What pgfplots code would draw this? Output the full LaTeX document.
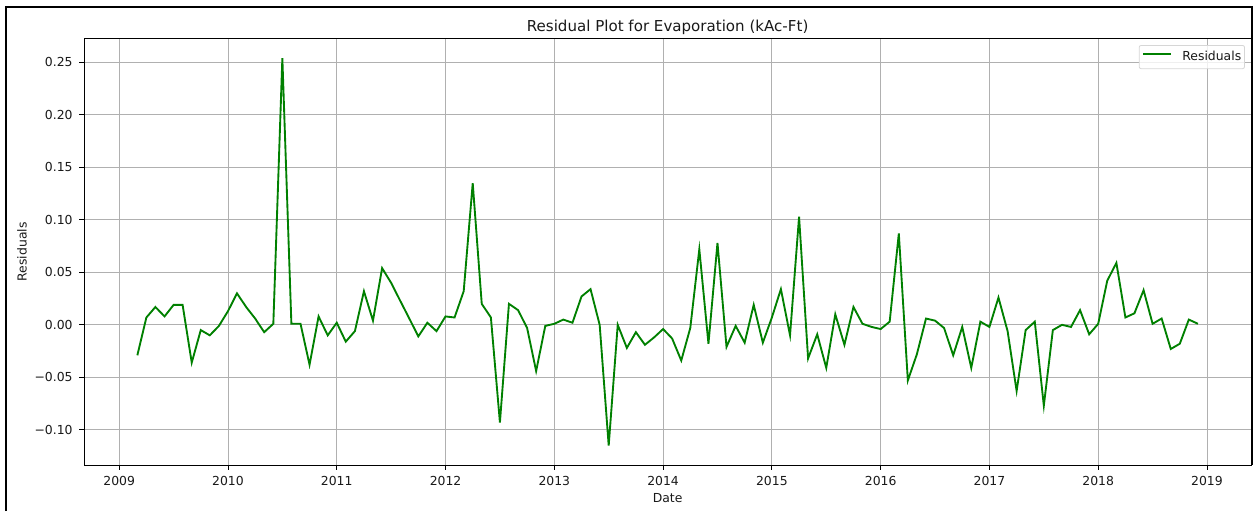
\documentclass[border=0pt]{standalone}
\usepackage{pgfplots}
\usepackage{pgfplotstable}
\pgfplotsset{compat=1.18}
\usepackage{fontspec}
\setmainfont{DejaVu Sans}
\definecolor{mplgreen}{HTML}{008000}
\definecolor{gridgray}{HTML}{B0B0B0}
\definecolor{leggray}{HTML}{D6D6D6}

\pgfplotstableread{
x y
2009.167 -0.029
2009.250 0.007
2009.333 0.017
2009.417 0.008
2009.500 0.019
2009.583 0.019
2009.667 -0.036
2009.750 -0.005
2009.833 -0.010
2009.917 -0.001
2010.000 0.013
2010.083 0.030
2010.167 0.017
2010.250 0.006
2010.333 -0.007
2010.417 0.001
2010.500 0.254
2010.583 0.001
2010.667 0.001
2010.750 -0.038
2010.833 0.008
2010.917 -0.010
2011.000 0.002
2011.083 -0.016
2011.167 -0.006
2011.250 0.032
2011.333 0.004
2011.417 0.054
2011.500 0.040
2011.583 0.023
2011.667 0.006
2011.750 -0.011
2011.833 0.002
2011.917 -0.006
2012.000 0.008
2012.083 0.007
2012.167 0.032
2012.250 0.135
2012.333 0.020
2012.417 0.007
2012.500 -0.093
2012.583 0.020
2012.667 0.014
2012.750 -0.003
2012.833 -0.044
2012.917 -0.001
2013.000 0.001
2013.083 0.005
2013.167 0.002
2013.250 0.027
2013.333 0.034
2013.417 0.000
2013.500 -0.115
2013.583 0.000
2013.667 -0.022
2013.750 -0.007
2013.833 -0.019
2013.917 -0.012
2014.000 -0.004
2014.083 -0.013
2014.167 -0.034
2014.250 -0.003
2014.333 0.072
2014.417 -0.018
2014.500 0.078
2014.583 -0.021
2014.667 -0.001
2014.750 -0.017
2014.833 0.019
2014.917 -0.017
2015.000 0.007
2015.083 0.034
2015.167 -0.010
2015.250 0.103
2015.333 -0.032
2015.417 -0.009
2015.500 -0.041
2015.583 0.010
2015.667 -0.019
2015.750 0.017
2015.833 0.001
2015.917 -0.002
2016.000 -0.004
2016.083 0.003
2016.167 0.087
2016.250 -0.053
2016.333 -0.028
2016.417 0.006
2016.500 0.004
2016.583 -0.003
2016.667 -0.029
2016.750 -0.002
2016.833 -0.041
2016.917 0.003
2017.000 -0.002
2017.083 0.026
2017.167 -0.006
2017.250 -0.063
2017.333 -0.005
2017.417 0.003
2017.500 -0.077
2017.583 -0.005
2017.667 0.000
2017.750 -0.002
2017.833 0.014
2017.917 -0.009
2018.000 0.001
2018.083 0.042
2018.167 0.059
2018.250 0.007
2018.333 0.011
2018.417 0.033
2018.500 0.001
2018.583 0.006
2018.667 -0.023
2018.750 -0.018
2018.833 0.005
2018.917 0.001
}\resid

\begin{document}
\begin{tikzpicture}
\useasboundingbox (0,0) rectangle (945pt,383.25pt);
\begin{axis}[
  at={(63.2pt,34.5pt)}, anchor=south west,
  width=875pt, height=319.7pt, scale only axis,
  xmin=2008.679, xmax=2019.404,
  ymin=-0.1335, ymax=0.2725,
  xtick={2009,2010,2011,2012,2013,2014,2015,2016,2017,2018,2019},
  xticklabels={2009,2010,2011,2012,2013,2014,2015,2016,2017,2018,2019},
  ytick={-0.10,-0.05,0,0.05,0.10,0.15,0.20,0.25},
  yticklabels={−0.10,−0.05,0.00,0.05,0.10,0.15,0.20,0.25},
  tick align=outside, major tick length=3.7pt,
  xtick pos=bottom, ytick pos=left,
  tick style={black, line width=0.6pt},
  axis line style={black, line width=0.6pt},
  grid=major,
  major grid style={gridgray, line width=0.6pt},
  every tick label/.append style={font=\fontsize{9.3}{11}\selectfont, text=black!90},
  xticklabel style={anchor=base, inner sep=0pt, yshift=-11.5pt},
  yticklabel style={anchor=east, inner sep=0pt, xshift=-4.9pt},
  title={Residual Plot for Evaporation (kAc-Ft)},
  title style={at={(axis description cs:0.5,1)}, anchor=base, yshift=-0.7pt, font=\fontsize{11.3}{13}\selectfont, text=black!90},
  xlabel={Date},
  ylabel={Residuals},
  xlabel style={at={(axis description cs:0.5,0)}, anchor=base, yshift=-28pt, font=\fontsize{9.3}{11}\selectfont, text=black!90},
  ylabel style={at={(axis description cs:-0.0534,0.5)}, anchor=center, font=\fontsize{9.3}{11}\selectfont, text=black!90},
  legend style={at={(axis description cs:1,1)}, anchor=north east, xshift=-4.5pt, yshift=-4.7pt,
    draw=leggray, line width=0.6pt, rounded corners=1.5pt, fill=white, fill opacity=0.8, text opacity=1,
    font=\fontsize{9.3}{11}\selectfont, text=black!90,
    inner xsep=2.5pt, inner ysep=4.1pt,
    nodes={inner sep=0pt, text depth=2.2pt},
    /tikz/every odd column/.append style={column sep=7.5pt}},
  legend cell align=left,
  legend image code/.code={\draw[#1] (0pt,2.4pt) -- (21pt,2.4pt);},
]
\addplot[mplgreen, line width=1.4pt] table[x=x,y=y] {\resid};
\addlegendentry{Residuals\hspace{2.7pt}}
\end{axis}
\draw[black, line width=1.7pt] (4.6pt,0pt) -- (4.6pt,378pt) -- (939pt,378pt) -- (939pt,34.5pt);
\end{tikzpicture}
\end{document}
